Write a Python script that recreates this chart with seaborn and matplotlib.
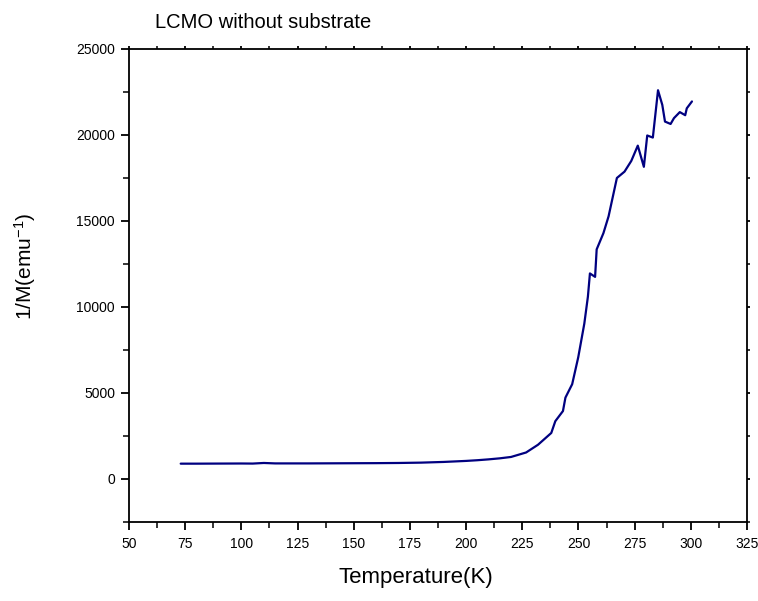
import matplotlib
matplotlib.use("Agg")
import matplotlib.pyplot as plt
from matplotlib.ticker import MultipleLocator
import seaborn as sns
import pandas as pd

temperature = [73, 80, 90, 100, 105, 110, 115, 120, 130, 140, 150, 160, 170, 180,
               190, 200, 205, 210, 215, 220, 226.7, 232, 237.9, 239.7, 243.1, 244.2,
               247.2, 249.9, 252.6, 254.2, 255.1, 257.4, 258.1, 261.1, 263.4, 267.1,
               270.5, 273.5, 276.4, 279.1, 280.6, 283.1, 285.4, 287.3, 288.5, 291,
               292.5, 295.1, 297.5, 298.2, 300.5]
inv_m = [890, 890, 895, 900, 895, 930, 905, 905, 905, 910, 915, 920, 930, 950,
         990, 1050, 1090, 1140, 1200, 1280, 1540, 1990, 2675, 3360, 3950, 4730,
         5510, 7075, 9030, 10600, 11950, 11750, 13350, 14290, 15270, 17500,
         17870, 18490, 19380, 18150, 19970, 19850, 22600, 21750, 20780, 20640,
         20980, 21330, 21150, 21550, 21950]

sns.set_style("ticks")
plt.rcParams['font.family'] = ['Liberation Sans', 'DejaVu Sans']
plt.rcParams['mathtext.default'] = 'regular'
plt.rcParams['text.color'] = 'black'
plt.rcParams['axes.labelcolor'] = 'black'

fig = plt.figure(figsize=(7.58, 6.01), dpi=100)
ax = fig.add_axes([0.1702, 0.1315, 0.8153, 0.787])

df = pd.DataFrame({"T": temperature, "M": inv_m})
sns.lineplot(data=df, x="T", y="M", ax=ax, color="#000080", linewidth=1.6,
             sort=False, estimator=None)

ax.set_xlim(50, 325)
ax.set_ylim(-2500, 25000)
ax.xaxis.set_major_locator(MultipleLocator(25))
ax.xaxis.set_minor_locator(MultipleLocator(12.5))
ax.yaxis.set_major_locator(MultipleLocator(5000))
ax.yaxis.set_minor_locator(MultipleLocator(2500))

for s in ax.spines.values():
    s.set_linewidth(1.3)
    s.set_color("black")

ax.tick_params(axis='both', which='major', direction='out', length=6, width=1.3,
               labelsize=10, colors='black')
ax.tick_params(axis='both', which='minor', direction='out', length=4, width=1.1,
               colors='black')
ax.tick_params(axis='x', which='major', pad=5)
ax.tick_params(axis='y', which='major', pad=4)
ax.tick_params(top=True, right=True, which='both')
for t in ax.xaxis.get_ticklines(minor=False)[1::2] + ax.xaxis.get_ticklines(minor=True)[1::2]:
    t.set_markersize(2)
for t in ax.yaxis.get_ticklines(minor=False)[1::2] + ax.yaxis.get_ticklines(minor=True)[1::2]:
    t.set_markersize(2)

ax.set_xlabel("Temperature(K)", fontsize=16, color='black')
ax.set_ylabel("1/M(emu$^{-1}$)", fontsize=15, color='black')
ax.xaxis.set_label_coords(0.464, -0.095)
ax.yaxis.set_label_coords(-0.148, 0.54)

fig.text(155 / 758, 1 - 22 / 601, "LCMO without substrate", fontsize=14.5,
         ha='left', va='center', color='black')

fig.savefig("out.png", dpi=100)
